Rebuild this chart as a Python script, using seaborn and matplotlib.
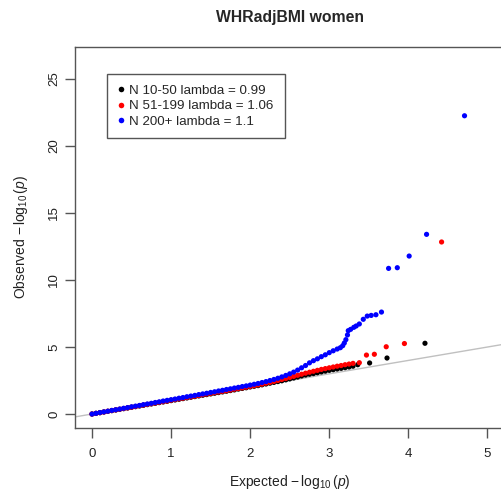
import numpy as np
import pandas as pd
import matplotlib
matplotlib.use('Agg')
import matplotlib.pyplot as plt
from matplotlib.lines import Line2D
import seaborn as sns

# --- values (expected vs observed -log10 p) ---
exp_black = [0.00, 0.05, 0.10, 0.15, 0.20, 0.25, 0.30, 0.35, 0.40, 0.45, 0.50, 0.55, 0.60, 0.65,
             0.70, 0.75, 0.80, 0.85, 0.90, 0.95, 1.00, 1.05, 1.10, 1.15, 1.20, 1.25, 1.30, 1.35,
             1.40, 1.45, 1.50, 1.55, 1.60, 1.65, 1.70, 1.75, 1.80, 1.85, 1.90, 1.95, 2.00, 2.05,
             2.10, 2.15, 2.20, 2.25, 2.30, 2.35, 2.40, 2.45, 2.50, 2.55, 2.60, 2.65, 2.70, 2.75,
             2.80, 2.85, 2.90, 2.95, 3.00, 3.05, 3.10, 3.15, 3.20, 3.25, 3.30, 3.36, 3.51, 3.73, 4.21]
obs_black = [0.00, 0.05, 0.10, 0.15, 0.20, 0.25, 0.30, 0.35, 0.40, 0.45, 0.50, 0.55, 0.60, 0.65,
             0.70, 0.75, 0.80, 0.85, 0.90, 0.95, 1.00, 1.05, 1.10, 1.15, 1.20, 1.25, 1.30, 1.35,
             1.40, 1.45, 1.50, 1.55, 1.60, 1.65, 1.70, 1.75, 1.80, 1.86, 1.91, 1.96, 2.02, 2.07,
             2.12, 2.18, 2.24, 2.30, 2.36, 2.42, 2.48, 2.55, 2.62, 2.69, 2.76, 2.84, 2.91, 2.97,
             3.02, 3.08, 3.14, 3.20, 3.26, 3.31, 3.36, 3.41, 3.46, 3.51, 3.57, 3.68, 3.81, 4.18, 5.28]

exp_red = [0.00, 0.05, 0.10, 0.15, 0.20, 0.25, 0.30, 0.35, 0.40, 0.45, 0.50, 0.55, 0.60, 0.65,
           0.70, 0.75, 0.80, 0.85, 0.90, 0.95, 1.00, 1.05, 1.10, 1.15, 1.20, 1.25, 1.30, 1.35,
           1.40, 1.45, 1.50, 1.55, 1.60, 1.65, 1.70, 1.75, 1.80, 1.85, 1.90, 1.95, 2.00, 2.05,
           2.10, 2.15, 2.20, 2.25, 2.30, 2.35, 2.40, 2.45, 2.50, 2.55, 2.60, 2.65, 2.70, 2.75,
           2.80, 2.85, 2.90, 2.95, 3.00, 3.05, 3.10, 3.15, 3.20, 3.25, 3.30, 3.38, 3.47, 3.57,
           3.72, 3.95, 4.42]
obs_red = [0.00, 0.05, 0.10, 0.15, 0.21, 0.26, 0.31, 0.36, 0.41, 0.46, 0.51, 0.56, 0.62, 0.67,
           0.72, 0.77, 0.82, 0.87, 0.92, 0.97, 1.03, 1.08, 1.13, 1.18, 1.23, 1.28, 1.33, 1.38,
           1.44, 1.49, 1.54, 1.59, 1.64, 1.69, 1.74, 1.79, 1.85, 1.90, 1.95, 2.00, 2.06, 2.11,
           2.17, 2.23, 2.30, 2.36, 2.43, 2.50, 2.58, 2.65, 2.73, 2.81, 2.89, 2.97, 3.05, 3.12,
           3.19, 3.26, 3.33, 3.39, 3.45, 3.51, 3.57, 3.62, 3.68, 3.73, 3.78, 3.83, 4.40, 4.46,
           5.02, 5.26, 12.84]

exp_blue = [0.00, 0.05, 0.10, 0.15, 0.20, 0.25, 0.30, 0.35, 0.40, 0.45, 0.50, 0.55, 0.60, 0.65,
            0.70, 0.75, 0.80, 0.85, 0.90, 0.95, 1.00, 1.05, 1.10, 1.15, 1.20, 1.25, 1.30, 1.35,
            1.40, 1.45, 1.50, 1.55, 1.60, 1.65, 1.70, 1.75, 1.80, 1.85, 1.90, 1.95, 2.00, 2.05,
            2.10, 2.15, 2.20, 2.25, 2.30, 2.35, 2.40, 2.45, 2.50, 2.55, 2.60, 2.65, 2.70, 2.75,
            2.80, 2.85, 2.90, 2.95, 3.00, 3.05, 3.10, 3.14, 3.17, 3.19, 3.21, 3.23, 3.24, 3.27,
            3.31, 3.34, 3.38, 3.43, 3.48, 3.53, 3.59, 3.66, 3.75, 3.86, 4.01, 4.23, 4.71]
obs_blue = [0.00, 0.05, 0.11, 0.16, 0.21, 0.27, 0.32, 0.37, 0.43, 0.48, 0.54, 0.59, 0.64, 0.70,
            0.75, 0.80, 0.86, 0.91, 0.97, 1.02, 1.07, 1.12, 1.18, 1.23, 1.29, 1.34, 1.39, 1.45,
            1.50, 1.55, 1.61, 1.66, 1.72, 1.77, 1.83, 1.88, 1.94, 1.99, 2.05, 2.10, 2.16, 2.22,
            2.28, 2.35, 2.42, 2.50, 2.58, 2.67, 2.77, 2.88, 3.00, 3.13, 3.28, 3.45, 3.62, 3.82,
            3.98, 4.12, 4.28, 4.42, 4.58, 4.72, 4.85, 4.95, 5.10, 5.30, 5.55, 5.90, 6.22, 6.32,
            6.47, 6.57, 6.72, 7.07, 7.31, 7.36, 7.41, 7.61, 10.87, 10.92, 11.79, 13.41, 22.26]

groups = ['N 10-50 lambda = 0.99', 'N 51-199 lambda = 1.06', 'N 200+ lambda = 1.1']
colors = ['black', 'red', 'blue']
x_ticks = [0, 1, 2, 3, 4, 5]
y_ticks = [0, 5, 10, 15, 20, 25]

df = pd.concat([
    pd.DataFrame({'expected': exp_black, 'observed': obs_black, 'group': groups[0]}),
    pd.DataFrame({'expected': exp_red, 'observed': obs_red, 'group': groups[1]}),
    pd.DataFrame({'expected': exp_blue, 'observed': obs_blue, 'group': groups[2]}),
], ignore_index=True)

sns.set_theme(style='white')
plt.rcParams['font.family'] = ['Liberation Sans', 'DejaVu Sans']
plt.rcParams['mathtext.fontset'] = 'custom'
plt.rcParams['mathtext.rm'] = 'Liberation Sans'
plt.rcParams['mathtext.it'] = 'Liberation Sans:italic'

fig = plt.figure(figsize=(5.01, 4.93), dpi=100)
ax = fig.add_axes([0.1497, 0.1318, 0.858, 0.7728])

# reference line y = x
ax.plot([-1, 6], [-1, 6], color='#c0c0c0', lw=1, zorder=1)

sns.scatterplot(data=df, x='expected', y='observed', hue='group',
                palette=dict(zip(groups, colors)), s=14, edgecolor='none',
                linewidth=0, legend=False, ax=ax, zorder=2)

ax.set_xlim(-0.215, 5.22)
ax.set_ylim(-1.045, 27.39)
ax.set_xticks(x_ticks)
ax.set_yticks(y_ticks)
for s in ax.spines.values():
    s.set_color('#555555')
    s.set_linewidth(1)
ax.tick_params(axis='both', direction='out', length=7, width=1, color='#555555',
               labelsize=9.5, labelcolor='#222222', bottom=True, left=True)
ax.tick_params(axis='x', pad=7.5)
ax.tick_params(axis='y', pad=3.5)
plt.setp(ax.get_yticklabels(), rotation=90, va='center')

ax.set_xlabel('Expected $-\\,\\log_{10}(p)$', fontsize=10, color='#222222', va='center')
ax.set_ylabel('Observed $-\\,\\log_{10}(p)$', fontsize=10, color='#222222', va='center')
ax.xaxis.set_label_coords(0.5, -0.142)
ax.yaxis.set_label_coords(-0.125, 0.5)
ax.text(0.5, 1 + 30 / 381, 'WHRadjBMI women', transform=ax.transAxes,
        ha='center', va='center', fontsize=11.3, fontweight='bold')

handles = [Line2D([0], [0], marker='o', linestyle='none', markersize=4,
                  markerfacecolor=c, markeredgecolor='none') for c in colors]
leg = ax.legend(handles, groups, loc='upper left', bbox_to_anchor=(0.074, 0.929),
                borderaxespad=0, frameon=True, fancybox=False, framealpha=1,
                edgecolor='#555555', fontsize=9.6, handlelength=0.5,
                handletextpad=0.4, borderpad=0.8, labelspacing=0.22)
leg.get_frame().set_linewidth(1)

fig.savefig('out.png', dpi=100)
